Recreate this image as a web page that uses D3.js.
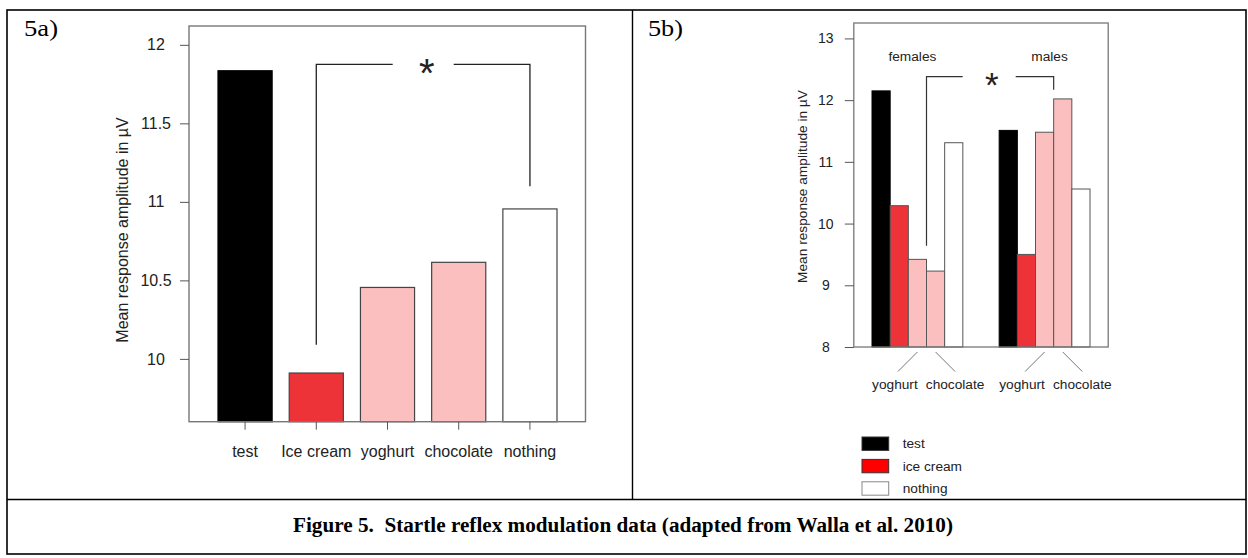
<!DOCTYPE html>
<html>
<head>
<meta charset="utf-8">
<script src="https://cdn.jsdelivr.net/npm/d3@7"></script>
<style>
  body { margin: 0; background: #fff; }
  svg { display: block; }
  .sans { font-family: "Liberation Sans", Arial, sans-serif; fill: #222; }
</style>
</head>
<body>
<div id="chart"></div>
<script>
// panel a: all subjects
const catsA = ["test", "Ice cream", "yoghurt", "chocolate", "nothing"]
const valsA = [11.835, 9.91, 10.455, 10.615, 10.955]
const ticksA = [10, 10.5, 11, 11.5, 12]
// significance bracket in panel a: [from, to], [top, fromEnd, toEnd]
const sigA = ["Ice cream", "nothing"]
const sigAVals = [11.875, 10.09, 11.1]

// panel b: by sex
const groupsB = ["females", "males"]
const condsB = ["test", "ice cream", "yoghurt", "chocolate", "nothing"]
const femaleVals = [12.15, 10.29, 9.42, 9.23, 11.31]
const maleVals = [11.51, 9.50, 11.48, 12.02, 10.56]
const ticksB = [8, 9, 10, 11, 12, 13]
const subLabelsB = ["yoghurt", "chocolate"]
const legendB = ["test", "ice cream", "nothing"]
const sigBVals = [12.38, 9.64, 12.17]

const caption = "Figure 5.  Startle reflex modulation data (adapted from Walla et al. 2010)"

const W = 1248, H = 558
const svg = d3.select("#chart").append("svg").attr("width", W).attr("height", H)

const barColor = d3.scaleOrdinal()
  .domain(["test", "ice cream", "yoghurt", "chocolate", "nothing"])
  .range(["#000000", "#ee3338", "#fbbfbf", "#fbbfbf", "#ffffff"])
const legendColor = d3.scaleOrdinal()
  .domain(["test", "ice cream", "nothing"])
  .range(["#000000", "#ff0000", "#ffffff"])

// table frame
svg.append("rect").attr("x", 7).attr("y", 10).attr("width", 1239).attr("height", 544)
  .attr("fill", "none").attr("stroke", "#000").attr("stroke-width", 1.6)
svg.append("line").attr("x1", 7).attr("x2", 1246).attr("y1", 499.5).attr("y2", 499.5)
  .attr("stroke", "#000").attr("stroke-width", 1.6)
svg.append("line").attr("x1", 632.5).attr("x2", 632.5).attr("y1", 10).attr("y2", 499.5)
  .attr("stroke", "#000").attr("stroke-width", 1.4)

svg.append("text").text("5a)").attr("x", 24).attr("y", 36)
  .attr("font-family", "Liberation Serif, Times New Roman, serif").attr("font-size", 23)
  .attr("textLength", 34).attr("lengthAdjust", "spacingAndGlyphs")
svg.append("text").text("5b)").attr("x", 648).attr("y", 36)
  .attr("font-family", "Liberation Serif, Times New Roman, serif").attr("font-size", 23)
  .attr("textLength", 35).attr("lengthAdjust", "spacingAndGlyphs")

svg.append("text").text(caption)
  .attr("x", 623).attr("y", 532).attr("text-anchor", "middle")
  .style("white-space", "pre")
  .attr("font-family", "Liberation Serif, Times New Roman, serif")
  .attr("font-weight", "bold").attr("font-size", 20)
  .attr("textLength", 660).attr("lengthAdjust", "spacingAndGlyphs")

// ---------- panel a ----------
const boxA = { left: 189, right: 585.5, top: 26, bottom: 421.7 }
const xA = d3.scaleBand().domain(catsA).range([218, 557]).paddingInner(0.24).paddingOuter(0)
const yA = d3.scaleLinear().domain([9.6, 12.12]).range([boxA.bottom, boxA.top])

const gA = svg.append("g")
gA.selectAll("rect.bar").data(catsA).enter().append("rect")
  .attr("class", "bar")
  .attr("x", d => xA(d))
  .attr("width", xA.bandwidth())
  .attr("y", (d, i) => yA(valsA[i]))
  .attr("height", (d, i) => boxA.bottom - yA(valsA[i]))
  .attr("fill", d => barColor(d.toLowerCase()))
  .attr("stroke", (d, i) => i === 0 ? "#000" : "#444")
  .attr("stroke-width", 1.2)

gA.append("rect").attr("x", boxA.left).attr("y", boxA.top)
  .attr("width", boxA.right - boxA.left).attr("height", boxA.bottom - boxA.top)
  .attr("fill", "none").attr("stroke", "#777").attr("stroke-width", 1.4)

const yAxisA = gA.append("g").attr("class", "sans")
  .attr("transform", "translate(" + boxA.left + ",0)")
  .call(d3.axisLeft(yA).tickValues(ticksA).tickSize(9).tickFormat(d3.format("")))
yAxisA.select(".domain").remove()
yAxisA.selectAll("line").attr("stroke", "#555")
yAxisA.selectAll("text").attr("text-anchor", "middle").attr("x", -33)
  .attr("font-size", 16).attr("fill", "#222")
  .attr("font-family", "Liberation Sans, Arial, sans-serif")

const xAxisA = gA.append("g")
  .attr("transform", "translate(0," + boxA.bottom + ")")
  .call(d3.axisBottom(xA).tickSize(8).tickPadding(16))
xAxisA.select(".domain").remove()
xAxisA.selectAll("line").attr("stroke", "#555")
xAxisA.selectAll("text").attr("font-size", 16).attr("fill", "#222")
  .attr("font-family", "Liberation Sans, Arial, sans-serif")

gA.append("text").attr("class", "sans")
  .text("Mean response amplitude in µV")
  .attr("text-anchor", "middle").attr("font-size", 16)
  .attr("transform", "translate(128.3,230) rotate(-90)")

// bracket a
const bxA1 = xA(sigA[0]) + xA.bandwidth() / 2
const bxA2 = xA(sigA[1]) + xA.bandwidth() / 2
const bMidA = 426.7
gA.append("path")
  .attr("d", "M" + bxA1 + "," + yA(sigAVals[1]) + "V" + yA(sigAVals[0]) + "H" + (bMidA - 34))
  .attr("fill", "none").attr("stroke", "#222").attr("stroke-width", 1.3)
gA.append("path")
  .attr("d", "M" + (bMidA + 27) + "," + yA(sigAVals[0]) + "H" + bxA2 + "V" + yA(sigAVals[2]))
  .attr("fill", "none").attr("stroke", "#222").attr("stroke-width", 1.3)
gA.append("text").text("*").attr("class", "sans")
  .attr("x", bMidA).attr("y", yA(sigAVals[0]) + 23)
  .attr("text-anchor", "middle").attr("font-size", 40).attr("fill", "#111")

// ---------- panel b ----------
const boxB = { left: 853.8, right: 1108.2, top: 23, bottom: 347 }
const xG = d3.scaleBand().domain(groupsB).range([872, 1090]).paddingInner(2 / 7).paddingOuter(0)
const xC = d3.scaleBand().domain(condsB).range([0, xG.bandwidth()])
const yB = d3.scaleLinear().domain([8, 13.25]).range([boxB.bottom, boxB.top])

const rowsB = groupsB.map((g, gi) => ({
  group: g,
  vals: gi === 0 ? femaleVals : maleVals
}))

const gB = svg.append("g")
const groupSel = gB.selectAll("g.grp").data(rowsB).enter().append("g")
  .attr("class", "grp")
  .attr("transform", d => "translate(" + xG(d.group) + ",0)")

groupSel.selectAll("rect").data(d => d.vals.map((v, i) => ({ cond: condsB[i], v: v })))
  .enter().append("rect")
  .attr("x", d => xC(d.cond))
  .attr("width", xC.bandwidth())
  .attr("y", d => yB(d.v))
  .attr("height", d => boxB.bottom - yB(d.v))
  .attr("fill", d => barColor(d.cond))
  .attr("stroke", d => d.cond === "test" ? "#000" : "#555")
  .attr("stroke-width", 1)

gB.append("rect").attr("x", boxB.left).attr("y", boxB.top)
  .attr("width", boxB.right - boxB.left).attr("height", boxB.bottom - boxB.top)
  .attr("fill", "none").attr("stroke", "#777").attr("stroke-width", 1.3)

const yAxisB = gB.append("g")
  .attr("transform", "translate(" + boxB.left + ",0)")
  .call(d3.axisLeft(yB).tickValues(ticksB).tickSize(9).tickFormat(d3.format("d")))
yAxisB.select(".domain").remove()
yAxisB.selectAll("line").attr("stroke", "#555")
yAxisB.selectAll("text").attr("text-anchor", "middle").attr("x", -28)
  .attr("font-size", 14).attr("fill", "#222")
  .attr("font-family", "Liberation Sans, Arial, sans-serif")

gB.append("text").attr("class", "sans")
  .text("Mean response amplitude in µV")
  .attr("text-anchor", "middle").attr("font-size", 13.7)
  .attr("transform", "translate(806.5,186.5) rotate(-90)")

// group labels
groupsB.forEach((g, gi) => {
  gB.append("text").attr("class", "sans").text(g)
    .attr("x", xG(g) + xG.bandwidth() / 2 + (gi === 0 ? -5 : 5))
    .attr("y", 60.7).attr("text-anchor", "middle").attr("font-size", 13.7)
})

// slanted pointers and sub labels
groupsB.forEach(g => {
  subLabelsB.forEach((c, ci) => {
    const cx = xG(g) + xC(c) + xC.bandwidth() / 2
    const dx = ci === 0 ? -19.5 : 19.5
    gB.append("line")
      .attr("x1", cx).attr("y1", boxB.bottom + 5)
      .attr("x2", cx + dx).attr("y2", boxB.bottom + 24.5)
      .attr("stroke", "#777").attr("stroke-width", 1)
    gB.append("text").attr("class", "sans").text(c)
      .attr("x", cx + dx + (ci === 0 ? -3 : 0)).attr("y", 389.3)
      .attr("text-anchor", "middle").attr("font-size", 13.7)
  })
})

// bracket b
const bxB1 = xG("females") + xC("chocolate")
const bxB2 = xG("males") + xC("chocolate")
const bMidB = 991.7
gB.append("path")
  .attr("d", "M" + bxB1 + "," + yB(sigBVals[1]) + "V" + yB(sigBVals[0]) + "H" + (bMidB - 29))
  .attr("fill", "none").attr("stroke", "#333").attr("stroke-width", 1.2)
gB.append("path")
  .attr("d", "M" + (bMidB + 24) + "," + yB(sigBVals[0]) + "H" + bxB2 + "V" + yB(sigBVals[2]))
  .attr("fill", "none").attr("stroke", "#333").attr("stroke-width", 1.2)
gB.append("text").text("*").attr("class", "sans")
  .attr("x", bMidB).attr("y", yB(sigBVals[0]) + 20)
  .attr("text-anchor", "middle").attr("font-size", 35).attr("fill", "#111")

// legend
const legY = d3.scaleBand().domain(legendB).range([437, 497]).paddingInner(0.32)
const leg = gB.selectAll("g.leg").data(legendB).enter().append("g").attr("class", "leg")
leg.append("rect")
  .attr("x", 862).attr("y", d => legY(d))
  .attr("width", 26.7).attr("height", 13.4)
  .attr("fill", d => legendColor(d))
  .attr("stroke", d => d === "nothing" ? "#888" : "#333").attr("stroke-width", 1)
leg.append("text").attr("class", "sans").text(d => d)
  .attr("x", 902.7).attr("y", d => legY(d) + 6.7).attr("dy", "0.35em")
  .attr("font-size", 13.7)
</script>
</body>
</html>
